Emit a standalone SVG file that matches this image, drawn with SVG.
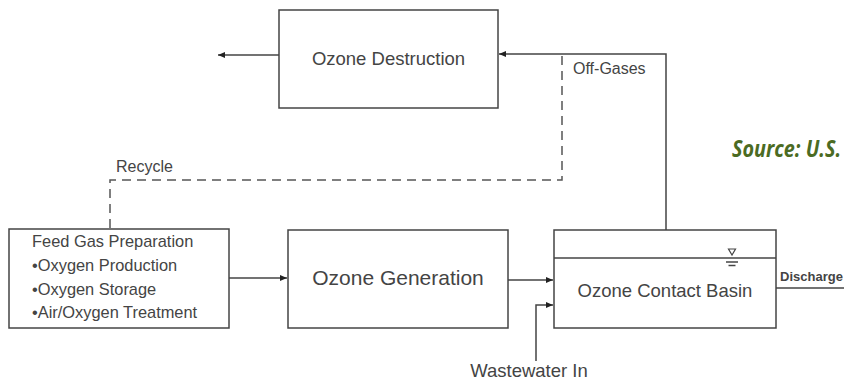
<svg xmlns="http://www.w3.org/2000/svg" width="844" height="381" viewBox="0 0 844 381">
<defs>
<marker id="ah" markerWidth="8" markerHeight="6" refX="7" refY="3" orient="auto" markerUnits="userSpaceOnUse">
<path d="M0,0 L7,3 L0,6 Z" fill="#222"/>
</marker>
<style>
.box{fill:#fff;stroke:#444;stroke-width:1.5}
.ln{fill:none;stroke:#444;stroke-width:1.5}
.dash{fill:none;stroke:#555;stroke-width:1.5;stroke-dasharray:9,6}
.t{font-family:"Liberation Sans",Arial,sans-serif;fill:#444}
.src{font-family:"Open Sans","Noto Sans",sans-serif;font-style:italic;font-weight:700;fill:#4b6b23}
</style>
</defs>
<rect width="844" height="381" fill="#fff"/>
<g id="connectors">
<line class="ln" x1="279" y1="55" x2="218" y2="55" marker-end="url(#ah)"/>
<polyline class="ln" points="666,231 666,54 499,54" marker-end="url(#ah)"/>
<polyline class="dash" points="562,56 562,180 110,180 110,229"/>
<line class="ln" x1="229" y1="278" x2="287" y2="278" marker-end="url(#ah)"/>
<line class="ln" x1="508" y1="280" x2="553" y2="280" marker-end="url(#ah)"/>
<polyline class="ln" points="536,361 536,305 553,305" marker-end="url(#ah)"/>
<line class="ln" x1="776" y1="288" x2="844" y2="288"/>
<text class="t" x="573" y="74" font-size="16">Off-Gases</text>
<text class="t" x="116" y="172" font-size="16">Recycle</text>
<text class="t" x="529" y="377" font-size="18.5" text-anchor="middle">Wastewater In</text>
<text class="t" x="780" y="281" font-size="13" font-weight="700">Discharge</text>
</g>
<g id="ozone-destruction">
<rect class="box" x="279" y="10" width="219" height="98"/>
<text class="t" x="388.5" y="65" font-size="18.5" text-anchor="middle">Ozone Destruction</text>
</g>
<g id="feed-gas">
<rect class="box" x="9" y="229" width="220" height="99"/>
<text class="t" x="32" y="247" font-size="16.4">Feed Gas Preparation</text>
<text class="t" x="32" y="271" font-size="16.4">•Oxygen Production</text>
<text class="t" x="32" y="295" font-size="16.4">•Oxygen Storage</text>
<text class="t" x="32" y="318" font-size="16.4">•Air/Oxygen Treatment</text>
</g>
<g id="ozone-generation">
<rect class="box" x="288" y="230" width="220" height="98"/>
<text class="t" x="398" y="285" font-size="21" text-anchor="middle">Ozone Generation</text>
</g>
<g id="contact-basin">
<rect class="box" x="554" y="230" width="222" height="98"/>
<line class="ln" x1="554" y1="258" x2="776" y2="258"/>
<path d="M728.5,249 L735.5,249 L732,255 Z" fill="none" stroke="#444" stroke-width="1.2"/>
<line class="ln" x1="726" y1="262" x2="738" y2="262" stroke-width="1.2"/>
<line class="ln" x1="728.5" y1="265.5" x2="735.5" y2="265.5" stroke-width="1.2"/>
<text class="t" x="665" y="297" font-size="18.5" text-anchor="middle">Ozone Contact Basin</text>
</g>
<text class="src" transform="translate(732,157) scale(0.86,1)" x="0" y="0" font-size="23">Source: U.S.</text>
</svg>
